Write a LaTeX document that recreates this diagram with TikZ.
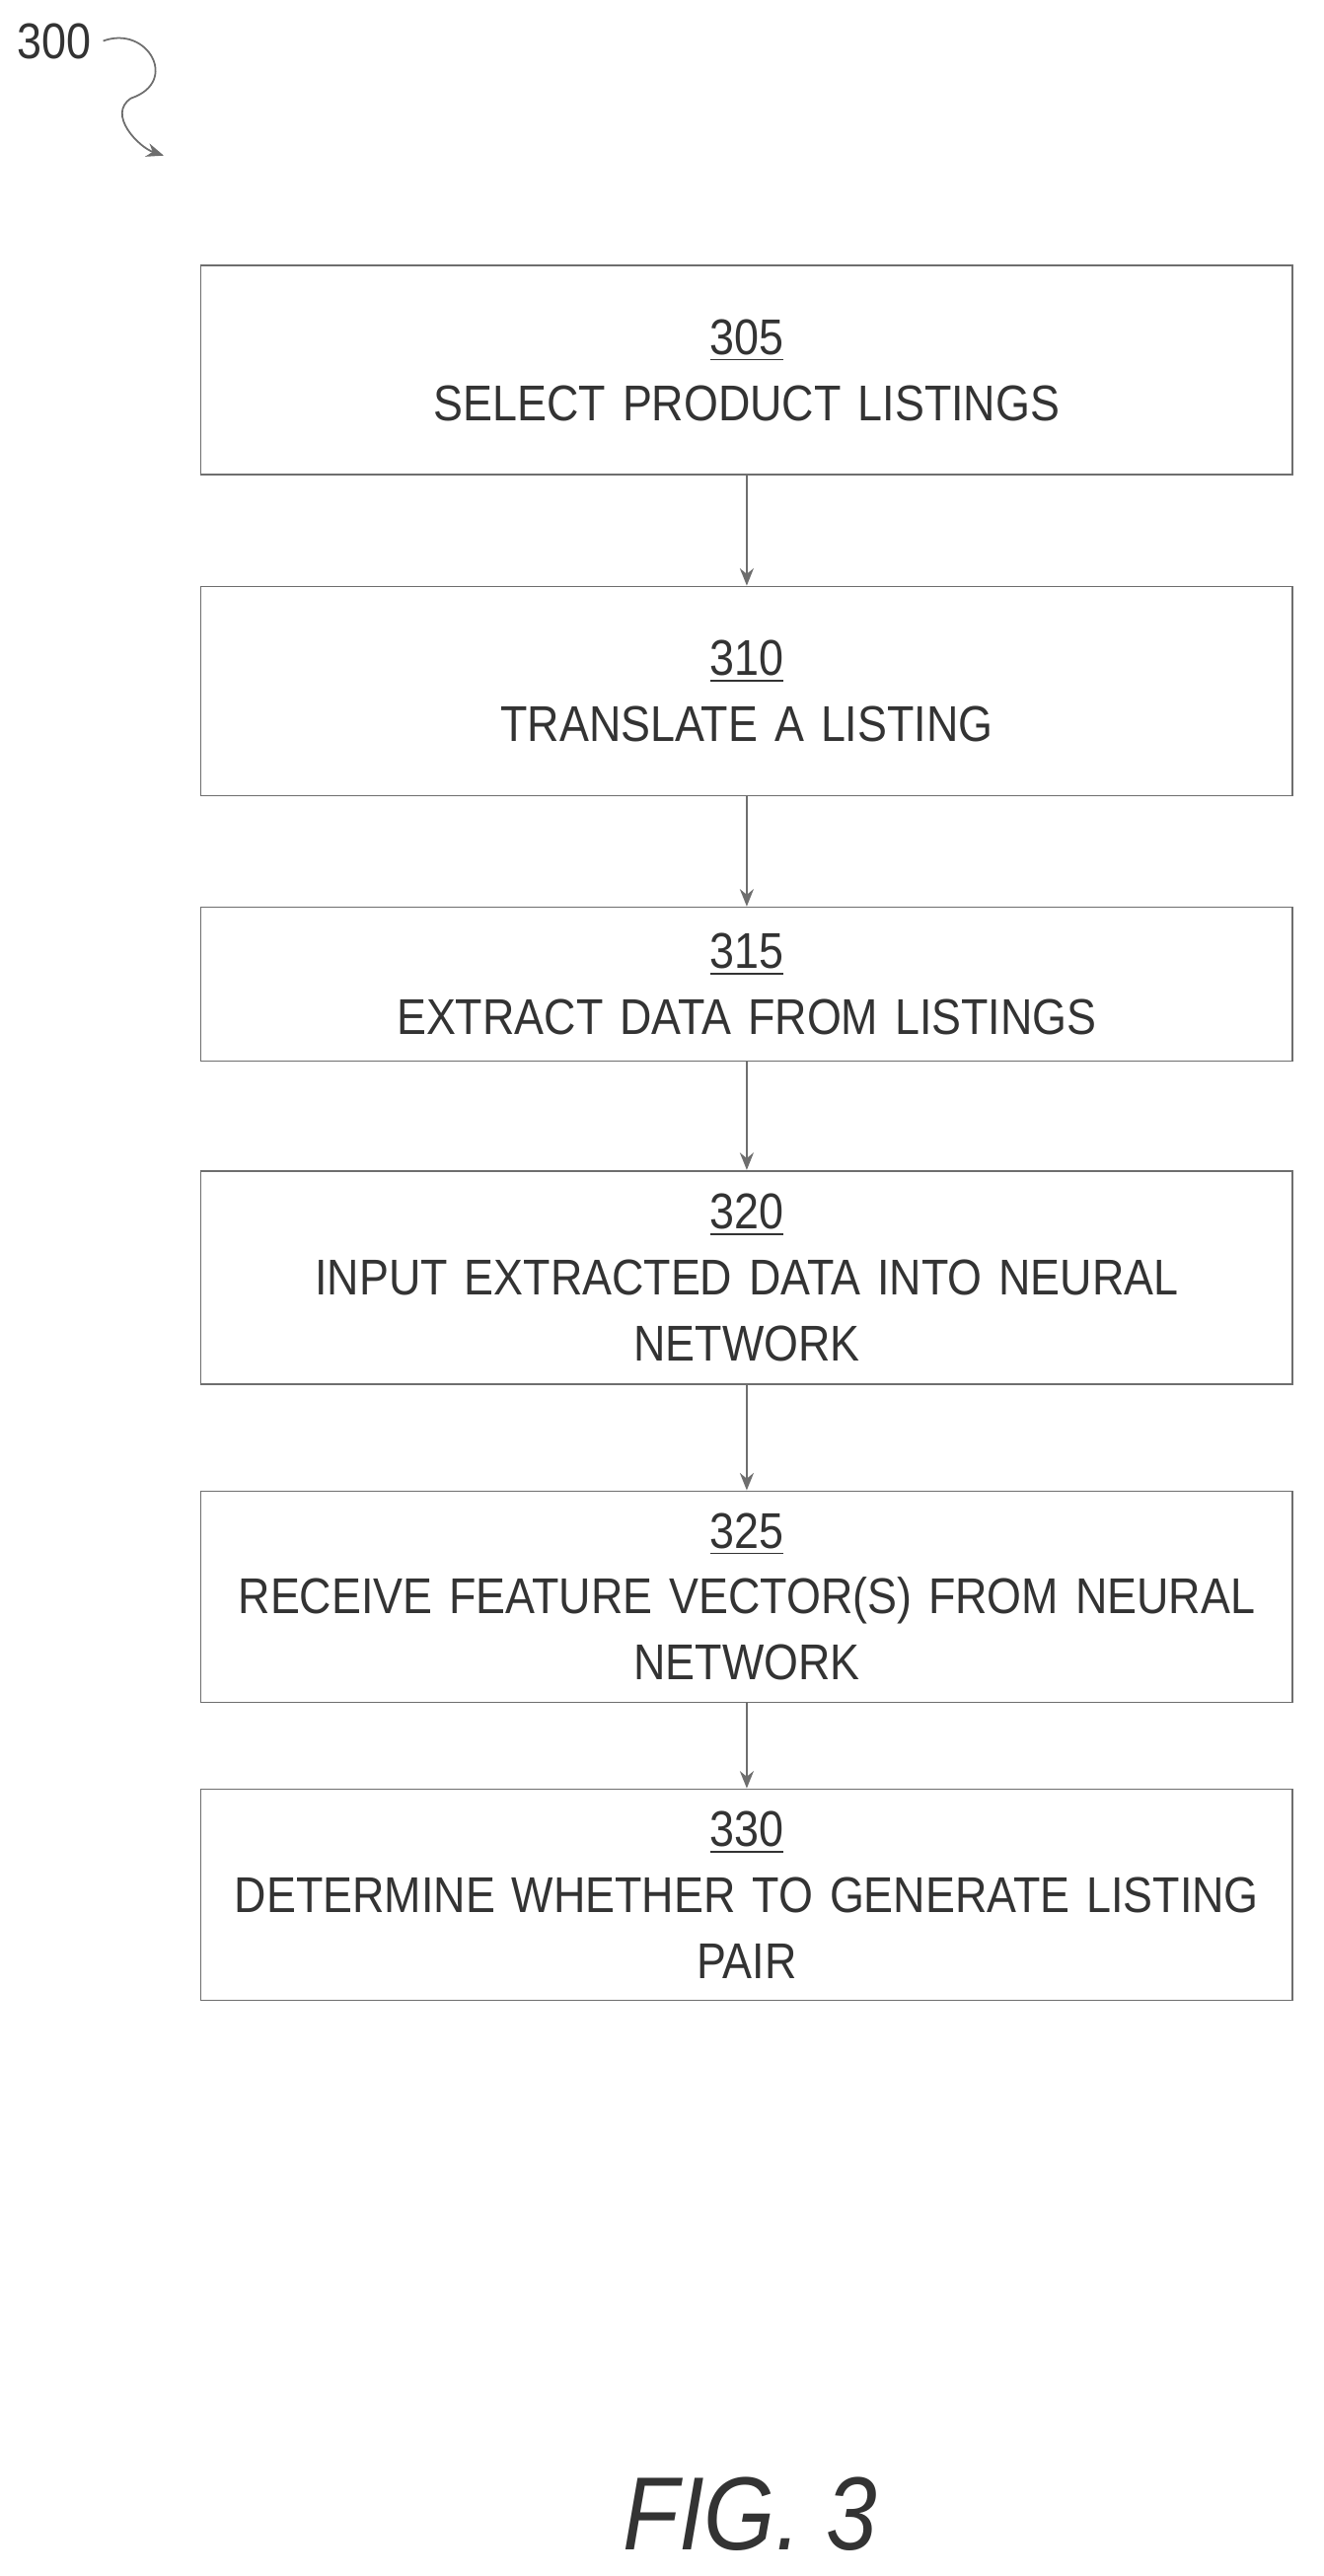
\documentclass[tikz,border=0pt]{standalone}
\usepackage{fontspec}
\setmainfont[FakeStretch=0.88]{Liberation Sans}
\usetikzlibrary{arrows.meta,positioning}
\definecolor{LineGray}{HTML}{6E6E6E}
\begin{document}
\begin{tikzpicture}[
  x=0.0166cm, y=-0.0166cm,
  stepbox/.style={
    rectangle, draw=LineGray, line width=0.5pt,
    minimum width=11.07cm, text width=10.8cm, inner xsep=0pt,
    align=center,
    font=\fontsize{14.5}{19}\selectfont, text=black!80
  },
  flow/.style={-{Stealth[length=5pt,width=4pt]}, LineGray, line width=0.5pt}
]
  \useasboundingbox (0,0) rectangle (808,1573);

  % Label of the figure
  \node[font=\fontsize{14.5}{17}\selectfont, text=black!80] (ref) at (33,25) {300};
  \coordinate (refend) at (100,95);
  \draw[flow] (ref.east) .. controls (90,15) and (110,50) .. (80,60)
    .. controls (65,70) and (85,90) .. (refend);

  % Steps (top to bottom)
  \node[stepbox, minimum height=2.12cm] (s305) at (456,226)
    {\underline{305}\\SELECT PRODUCT LISTINGS};
  \node[stepbox, minimum height=2.12cm] (s310) at (456,422)
    {\underline{310}\\TRANSLATE A LISTING};
  \node[stepbox, minimum height=1.56cm] (s315) at (456,601)
    {\underline{315}\\EXTRACT DATA FROM LISTINGS};
  \node[stepbox, minimum height=2.16cm] (s320) at (456,780)
    {\underline{320}\\INPUT EXTRACTED DATA INTO NEURAL\\NETWORK};
  \node[stepbox, minimum height=2.14cm] (s325) at (456,975)
    {\underline{325}\\RECEIVE FEATURE VECTOR(S) FROM NEURAL\\NETWORK};
  \node[stepbox, minimum height=2.14cm] (s330) at (456,1157)
    {\underline{330}\\DETERMINE WHETHER TO GENERATE LISTING\\PAIR};

  % Connectors
  \foreach \a/\b in {s305/s310, s310/s315, s315/s320, s320/s325, s325/s330}
    \draw[flow] (\a.south) -- (\b.north);

  % Caption
  \node[font=\fontsize{30}{34}\selectfont\itshape, text=black!80] (cap) at (458,1535) {FIG. 3};
\end{tikzpicture}
\end{document}
